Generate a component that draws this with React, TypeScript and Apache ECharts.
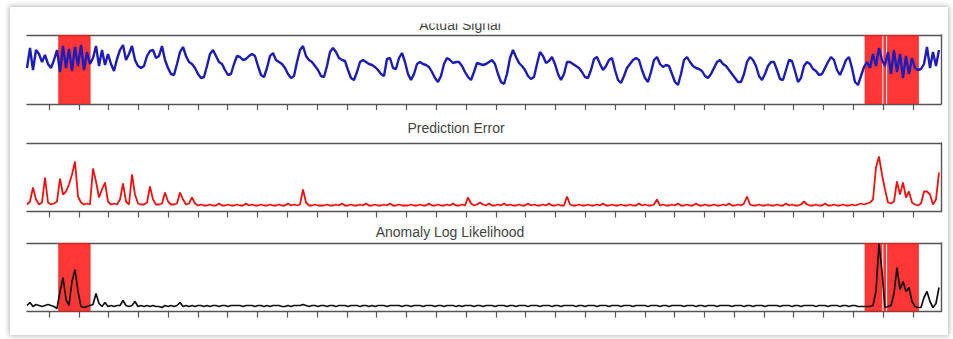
import React, { useEffect, useRef } from "react";
import * as echarts from "echarts";

// ---- Data (one sample every tick/10) ----
const SIGNAL: number[] = [
  36, 56, 34, 54, 50, 42, 49, 40, 36, 44,
  54, 32, 58, 36, 55, 33, 57, 38, 59, 34,
  52, 40, 46, 58, 38, 54, 39, 50, 40, 33,
  45, 54, 59, 44, 50, 58, 44, 38, 36, 38,
  48, 53, 54, 46, 48, 58, 44, 36, 30, 29,
  40, 52, 57, 48, 42, 40, 36, 30, 26, 27,
  38, 50, 54, 48, 42, 40, 34, 29, 30, 40,
  48, 47, 44, 45, 48, 50, 48, 38, 29, 27,
  36, 48, 51, 44, 42, 40, 36, 30, 26, 28,
  42, 54, 58, 48, 44, 42, 38, 34, 28, 27,
  38, 52, 56, 52, 46, 44, 43, 34, 26, 24,
  32, 42, 44, 42, 40, 39, 37, 34, 30, 28,
  45, 46, 36, 35, 46, 51, 42, 30, 24, 30,
  40, 42, 40, 39, 37, 32, 26, 22, 28, 40,
  46, 44, 41, 42, 42, 38, 32, 27, 24, 32,
  41, 40, 39, 40, 42, 44, 40, 30, 22, 20,
  30, 46, 54, 47, 41, 38, 34, 28, 25, 27,
  40, 52, 48, 41, 43, 47, 40, 30, 24, 30,
  42, 42, 40, 38, 36, 32, 27, 26, 34, 45,
  47, 40, 34, 38, 44, 46, 34, 24, 21, 28,
  36, 40, 44, 46, 44, 34, 26, 22, 32, 44,
  47, 40, 37, 39, 38, 30, 22, 19, 30, 44,
  47, 42, 38, 36, 35, 33, 28, 26, 30, 36,
  42, 44, 40, 38, 34, 30, 26, 22, 22, 30,
  42, 47, 44, 38, 28, 24, 30, 38, 42, 42,
  34, 25, 24, 34, 44, 43, 33, 22, 26, 38,
  42, 40, 35, 33, 29, 30, 36, 42, 47, 44,
  34, 29, 36, 44, 47, 36, 22, 19, 28, 37,
  42, 36, 50, 38, 56, 44, 38, 52, 30, 54,
  32, 50, 26, 48, 30, 46, 36, 34, 35, 40,
  57, 36, 52, 38, 54,
];

const PREDICTION_ERROR: number[] = [
  7, 10, 24, 12, 7, 9, 34, 9, 7, 8,
  10, 33, 17, 20, 27, 37, 50, 15, 9, 7,
  8, 7, 43, 30, 14, 22, 29, 10, 7, 8,
  7, 12, 28, 10, 7, 37, 17, 8, 7, 7,
  9, 25, 12, 7, 7, 8, 19, 10, 7, 7,
  8, 19, 12, 7, 8, 14, 8, 6, 7, 6,
  6, 7, 6, 6, 8, 6, 6, 7, 6, 6,
  7, 6, 6, 8, 6, 7, 6, 6, 7, 6,
  6, 7, 6, 6, 7, 6, 6, 8, 6, 7,
  6, 7, 22, 9, 6, 6, 7, 6, 6, 6,
  7, 6, 6, 7, 6, 8, 6, 6, 7, 6,
  6, 7, 6, 8, 6, 6, 7, 6, 6, 7,
  6, 8, 6, 6, 7, 6, 6, 6, 7, 6,
  6, 7, 6, 6, 8, 6, 6, 7, 6, 6,
  7, 6, 8, 6, 6, 7, 6, 14, 8, 6,
  7, 9, 7, 6, 8, 6, 6, 7, 6, 8,
  6, 7, 6, 6, 7, 6, 6, 8, 6, 7,
  6, 6, 7, 6, 8, 6, 6, 7, 6, 6,
  15, 7, 6, 6, 7, 6, 6, 7, 6, 6,
  7, 6, 8, 6, 6, 7, 6, 6, 7, 6,
  6, 7, 6, 6, 8, 6, 7, 6, 6, 7,
  12, 6, 7, 6, 6, 7, 6, 8, 6, 6,
  7, 6, 6, 8, 6, 6, 7, 6, 6, 7,
  6, 6, 7, 6, 8, 6, 6, 7, 6, 8,
  15, 7, 6, 6, 7, 6, 6, 7, 6, 6,
  7, 6, 6, 8, 6, 7, 6, 6, 7, 10,
  7, 6, 6, 7, 6, 6, 8, 6, 6, 7,
  6, 6, 7, 6, 6, 7, 6, 7, 8, 7,
  8, 9, 12, 44, 55, 37, 22, 9, 8, 10,
  30, 17, 29, 14, 20, 9, 7, 6, 8, 20,
  20, 17, 7, 12, 39,
];

const LOG_LIKELIHOOD: number[] = [
  6, 9, 5, 7, 6, 5, 6, 7, 6, 5,
  3, 20, 34, 12, 6, 30, 42, 20, 5, 4,
  5, 6, 7, 18, 8, 5, 9, 5, 6, 5,
  6, 6, 11, 6, 5, 6, 10, 5, 6, 5,
  6, 5, 6, 5, 5, 4, 6, 5, 6, 5,
  6, 9, 5, 6, 5, 6, 5, 6, 6, 5,
  6, 5, 6, 6, 5, 6, 6, 5, 6, 6,
  6, 6, 5, 6, 6, 6, 5, 6, 6, 5,
  6, 5, 6, 6, 6, 5, 5, 6, 5, 6,
  6, 6, 7, 6, 5, 6, 6, 5, 6, 6,
  5, 6, 6, 5, 6, 6, 6, 5, 6, 6,
  6, 5, 6, 6, 5, 6, 5, 6, 6, 6,
  5, 6, 6, 6, 6, 5, 6, 6, 5, 6,
  6, 6, 5, 6, 6, 6, 5, 6, 6, 5,
  6, 6, 6, 5, 6, 5, 6, 6, 6, 5,
  6, 6, 5, 6, 6, 6, 5, 6, 6, 6,
  5, 6, 6, 5, 6, 6, 6, 5, 6, 6,
  6, 5, 6, 6, 6, 5, 6, 6, 5, 6,
  6, 6, 6, 5, 6, 6, 5, 6, 6, 6,
  5, 6, 6, 6, 5, 6, 6, 6, 5, 6,
  6, 6, 5, 6, 6, 6, 6, 5, 6, 6,
  6, 5, 6, 6, 5, 6, 6, 6, 6, 5,
  6, 6, 6, 5, 6, 6, 5, 6, 6, 6,
  5, 6, 6, 6, 6, 5, 6, 6, 6, 5,
  6, 6, 5, 6, 6, 6, 5, 6, 6, 6,
  6, 5, 6, 6, 6, 5, 6, 6, 5, 6,
  6, 6, 6, 5, 6, 6, 6, 5, 6, 6,
  6, 5, 6, 6, 5, 6, 6, 5, 5, 5,
  5, 5, 6, 20, 68, 40, 4, 5, 6, 18,
  44, 22, 30, 20, 24, 10, 5, 4, 4, 14,
  20, 10, 4, 8, 24,
];

// anomaly windows, in sample units [start, end]
const ANOMALY_WINDOWS: [number, number][] = [
  [10.4, 21.2],
  [279.2, 285.1],
  [285.45, 286.35],
  [286.7, 297.3],
];

const TITLES = ["Actual Signal", "Prediction Error", "Anomaly Log Likelihood"];
const Y_MAX = [69, 68.5, 68.5];

const TICK_START = 7.33;
const TICK_STEP = 9.93;
const TICK_COUNT = 30;

export default function App() {
  const ref = useRef<HTMLDivElement>(null);

  useEffect(() => {
    if (!ref.current) return;
    const chart = echarts.init(ref.current, null, { renderer: "svg" });
    const xMax = SIGNAL.length - 1 + 0.67;
    const ticks = Array.from({ length: TICK_COUNT }, (_, k) => +(TICK_START + k * TICK_STEP).toFixed(2));
    const frame = { color: "#555", width: 1.4 };
    const grids = [
      { left: 27, right: 12, top: 35, height: 69 },
      { left: 27, right: 12, top: 143, height: 68.5 },
      { left: 27, right: 12, top: 243, height: 68.5 },
    ];
    const xAxes: any[] = [];
    const yAxes: any[] = [];
    grids.forEach((_, g) => {
      xAxes.push({
        type: "value", gridIndex: g, min: 0, max: xMax, position: "bottom",
        axisLine: { show: true, onZero: false, lineStyle: frame },
        axisTick: { show: true, inside: false, length: 6, customValues: ticks, lineStyle: { color: "#555", width: 1.2 } },
        axisLabel: { show: false }, splitLine: { show: false },
      });
      xAxes.push({
        type: "value", gridIndex: g, min: 0, max: xMax, position: "top",
        axisLine: { show: true, onZero: false, lineStyle: frame },
        axisTick: { show: false }, axisLabel: { show: false }, splitLine: { show: false },
      });
      yAxes.push({
        type: "value", gridIndex: g, min: 0, max: Y_MAX[g], position: "right",
        axisLine: { show: true, onZero: false, lineStyle: frame },
        axisTick: { show: false }, axisLabel: { show: false }, splitLine: { show: false },
      });
    });
    const toXY = (arr: number[]) => arr.map((v, i) => [i, v]);
    const areas = (alpha: number) => ({
      silent: true,
      itemStyle: { color: `rgba(255,16,16,${alpha})` },
      data: ANOMALY_WINDOWS.map(([a, b]) => [{ xAxis: a }, { xAxis: b }]),
    });
    const titleY = [25, 128, 231.5];
    chart.setOption({
      animation: false,
      grid: grids,
      xAxis: xAxes,
      yAxis: yAxes,
      series: [
        {
          type: "line", xAxisIndex: 0, yAxisIndex: 0, data: toXY(SIGNAL), symbol: "none",
          lineStyle: { color: "#1c1cb8", width: 2.4 }, markArea: areas(0.84),
        },
        {
          type: "line", xAxisIndex: 2, yAxisIndex: 1, data: toXY(PREDICTION_ERROR), symbol: "none",
          lineStyle: { color: "#ee1111", width: 1.8 },
        },
        {
          type: "line", xAxisIndex: 4, yAxisIndex: 2, data: toXY(LOG_LIKELIHOOD), symbol: "none",
          lineStyle: { color: "#111", width: 1.7 }, markArea: areas(0.84),
        },
      ],
      graphic: [
        ...TITLES.map((t, i) => ({
          type: "text", x: [460, 456, 450][i], y: titleY[i], z: 10,
          style: { text: t, fill: "#444", font: "14px 'Liberation Sans', Arial, sans-serif", align: "center", verticalAlign: "middle" },
        })),
        { type: "rect", shape: { x: 380, y: 8, width: 160, height: 15.5 }, style: { fill: "#fff" }, z: 20 },
      ],
    });
    return () => chart.dispose();
  }, []);

  return (
    <div style={{ position: "fixed", left: 0, top: 0, width: 953, height: 339, background: "#fff", overflow: "hidden" }}>
      <div style={{ position: "absolute", left: 10, top: 7, width: 938, height: 328, background: "#fff", boxShadow: "0 0 5px 1px rgba(0,0,0,0.28)" }} />
      <div ref={ref} style={{ position: "absolute", left: 0, top: 0, width: 953, height: 339 }} />
    </div>
  );
}
